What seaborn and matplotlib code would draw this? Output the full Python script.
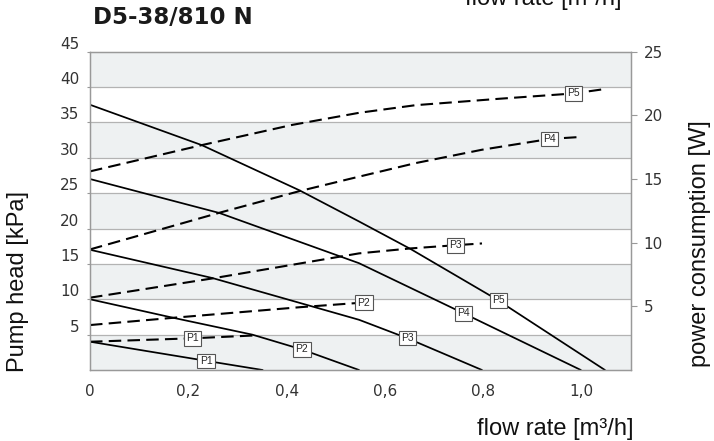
import numpy as np
import pandas as pd
import matplotlib
matplotlib.use("Agg")
import matplotlib.pyplot as plt
import matplotlib.transforms as mtransforms
import seaborn as sns

# ---- pump head curves: flow [m3/h] vs head [kPa] ----
p1_head_flow = [0.0, 0.122, 0.236, 0.351]
p1_head_kpa = [4.0, 2.6, 1.3, 0.0]
p2_head_flow = [0.0, 0.168, 0.33, 0.431, 0.547]
p2_head_kpa = [10.0, 7.4, 5.0, 2.9, 0.0]
p3_head_flow = [0.0, 0.249, 0.547, 0.645, 0.797]
p3_head_kpa = [17.0, 13.0, 7.1, 4.5, 0.0]
p4_head_flow = [0.0, 0.263, 0.547, 0.76, 0.998]
p4_head_kpa = [27.0, 22.2, 15.1, 8.0, 0.0]
p5_head_flow = [0.0, 0.227, 0.426, 0.547, 0.652, 0.824, 1.047]
p5_head_kpa = [37.5, 31.8, 25.4, 21.0, 17.1, 10.1, 0.0]

# ---- power consumption curves: flow [m3/h] vs power [W] ----
p1_power_flow = [0.0, 0.209, 0.338]
p1_power_w = [2.22, 2.49, 2.72]
p2_power_flow = [0.0, 0.169, 0.426, 0.55]
p2_power_w = [3.53, 4.1, 4.93, 5.28]
p3_power_flow = [0.0, 0.25, 0.547, 0.652, 0.743, 0.797]
p3_power_w = [5.68, 7.2, 9.16, 9.55, 9.8, 9.94]
p4_power_flow = [0.0, 0.263, 0.426, 0.527, 0.662, 0.797, 0.935, 0.996]
p4_power_w = [9.47, 12.35, 14.05, 15.0, 16.25, 17.3, 18.15, 18.3]
p5_power_flow = [0.0, 0.227, 0.411, 0.547, 0.662, 0.831, 0.983, 1.04]
p5_power_w = [15.6, 17.66, 19.25, 20.2, 20.8, 21.3, 21.72, 22.03]

speeds = ["P1", "P2", "P3", "P4", "P5"]
head_label_flow = [0.236, 0.431, 0.645, 0.76, 0.83]
power_label_flow = [0.209, 0.557, 0.743, 0.935, 0.983]

x_ticks = [0.0, 0.2, 0.4, 0.6, 0.8, 1.0]
x_tick_labels = ["0", "0,2", "0,4", "0,6", "0,8", "1,0"]
head_ticks = [5, 10, 15, 20, 25, 30, 35, 40, 45]
power_ticks = [5, 10, 15, 20, 25]

title = "D5-38/810 N"
x_label = "flow rate [m³/h]"
head_label = "Pump head [kPa]"
power_label = "power consumption [W]"

head_curves = [(p1_head_flow, p1_head_kpa), (p2_head_flow, p2_head_kpa),
               (p3_head_flow, p3_head_kpa), (p4_head_flow, p4_head_kpa),
               (p5_head_flow, p5_head_kpa)]
power_curves = [(p1_power_flow, p1_power_w), (p2_power_flow, p2_power_w),
                (p3_power_flow, p3_power_w), (p4_power_flow, p4_power_w),
                (p5_power_flow, p5_power_w)]

head_df = pd.concat([pd.DataFrame({"flow": f, "value": v, "speed": s})
                     for s, (f, v) in zip(speeds, head_curves)], ignore_index=True)
power_df = pd.concat([pd.DataFrame({"flow": f, "value": v, "speed": s})
                      for s, (f, v) in zip(speeds, power_curves)], ignore_index=True)

sns.set_style("white")
plt.rcParams["font.family"] = ["DejaVu Sans"]

GRID = "#b3b3b3"
BAND = "#eef1f2"
TICK_TXT = "#333333"
label_font = ["Liberation Sans", "DejaVu Sans"]

fig = plt.figure(figsize=(7.14, 4.41), dpi=100)
ax = fig.add_axes([90 / 714, 1 - 370 / 441, (631 - 90) / 714, (370 - 51.7) / 441])
ax.set_xlim(0, 1.1)
ax.set_ylim(0, 45)

# alternating horizontal bands and grid lines
for lo in range(0, 45, 10):
    ax.axhspan(lo, lo + 5, color=BAND, lw=0, zorder=0)
for g in range(5, 45, 5):
    ax.axhline(g, color=GRID, lw=0.9, zorder=0.5)

black = {s: "black" for s in speeds}
sns.lineplot(data=head_df, x="flow", y="value", hue="speed", palette=black,
             estimator=None, sort=False, legend=False, lw=1.25, ax=ax, zorder=2)

ax2 = ax.twinx()
ax2.set_ylim(0, 25)
sns.lineplot(data=power_df, x="flow", y="value", hue="speed", style="speed",
             palette=black, dashes=[(6, 3)] * len(speeds), estimator=None,
             sort=False, legend=False, lw=1.5, ax=ax2, zorder=2)

box = dict(boxstyle="square,pad=0.22", fc="white", ec="#555555", lw=0.8)
for s, (f, v), lx in zip(speeds, head_curves, head_label_flow):
    ax.text(lx, np.interp(lx, f, v), s, ha="center", va="center", fontsize=7.5,
            family=label_font, bbox=box, zorder=5)
for s, (f, v), lx in zip(speeds, power_curves, power_label_flow):
    ax2.text(lx, np.interp(lx, f, v), s, ha="center", va="center", fontsize=7.5,
             family=label_font, bbox=box, zorder=5)

# axes frame and ticks
for a in (ax, ax2):
    for sp in a.spines.values():
        sp.set_color("#999999")
        sp.set_linewidth(0.9)
    a.set_xlabel("")
    a.set_ylabel("")

ax.set_xticks(x_ticks)
ax.set_xticklabels(x_tick_labels)
ax.set_yticks(head_ticks)
ax.set_yticklabels([str(t) for t in head_ticks])
ax.tick_params(axis="x", direction="out", length=4, width=0.8, color="#999999",
               pad=6, labelsize=11, labelcolor=TICK_TXT)
ax.tick_params(axis="y", direction="out", length=2.5, width=0.8, color="#999999",
               pad=5, labelsize=11, labelcolor=TICK_TXT)
ax2.set_yticks(power_ticks)
ax2.set_yticklabels([str(t) for t in power_ticks])
ax2.tick_params(axis="y", direction="out", length=4, width=0.8, color="#999999",
                pad=5, labelsize=11, labelcolor=TICK_TXT)

# head tick labels sit a little above their grid lines
shift = mtransforms.ScaledTranslation(0, 6.5 / 72, fig.dpi_scale_trans)
for tick in ax.yaxis.get_major_ticks():
    tick.label1.set_transform(tick.label1.get_transform() + shift)

fig.text(93 / 714, 1 - 17.5 / 441, title, ha="left", va="center",
         fontsize=16.5, fontweight="bold", family="DejaVu Sans", color="#1a1a1a")
fig.text(555 / 714, 1 - 435 / 441, x_label, ha="center", va="baseline",
         fontsize=17, family=label_font, color="#111111")
fig.text(543 / 714, 1 - 4.5 / 441, x_label, ha="center", va="baseline",
         fontsize=17, family=label_font, color="#111111")
fig.text(18.5 / 714, 1 - 281 / 441, head_label, ha="center", va="center",
         rotation=90, fontsize=17, family=label_font, color="#111111")
fig.text(700 / 714, 1 - 243.5 / 441, power_label, ha="center", va="center",
         rotation=90, fontsize=17, family=label_font, color="#111111")

fig.savefig("out.png", dpi=100)
